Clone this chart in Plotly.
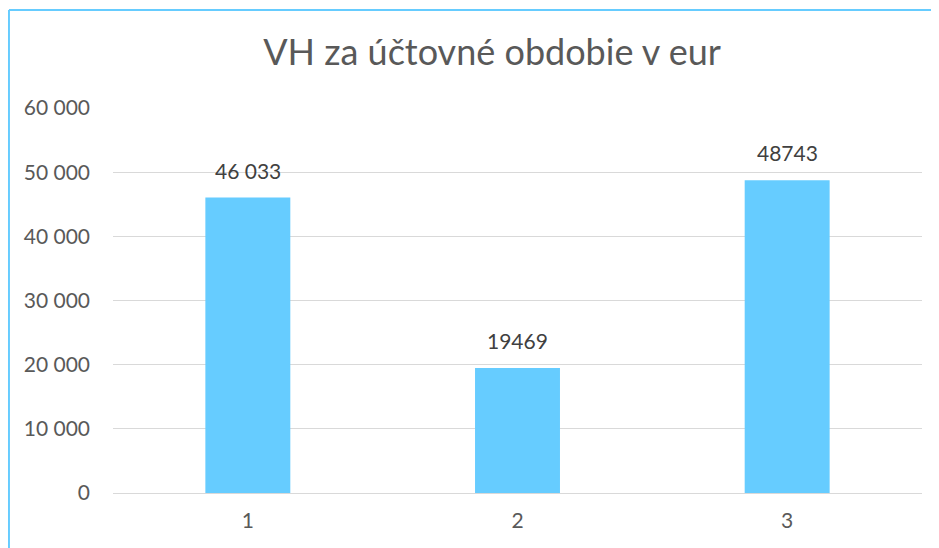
import plotly.graph_objects as go

categories = ["1", "2", "3"]
values = [46033, 19469, 48743]
value_labels = ["46 033", "19469", "48743"]
y_ticks = [0, 10000, 20000, 30000, 40000, 50000, 60000]
title_text = "VH za účtovné obdobie v eur"

fig = go.Figure()
fig.add_trace(go.Bar(
    x=categories, y=values,
    marker=dict(color="#66CCFF", line=dict(width=0)),
    width=0.315,
))

for i, (v, t) in enumerate(zip(values, value_labels)):
    fig.add_annotation(x=i, y=v, text=t, showarrow=False,
                       yanchor="bottom", yshift=13,
                       font=dict(size=21, color="#404040", family="Lato"))

border = dict(color="#66CCFF", width=2)
fig.update_layout(
    width=939, height=548,
    margin=dict(l=105, r=25, t=100, b=63),
    paper_bgcolor="white", plot_bgcolor="white",
    separators=", ",
    font=dict(family="Lato", color="#595959", size=21),
    title=dict(text=title_text, x=0.4685, xref="paper", xanchor="center",
               y=0.9197, yref="container", yanchor="middle",
               font=dict(size=36, color="#595959", family="Lato")),
    showlegend=False,
    xaxis=dict(type="category", showgrid=False, showline=True, linecolor="#D9D9D9", linewidth=1,
               ticks="", tickfont=dict(size=21, color="#595959"), ticklabelstandoff=9),
    yaxis=dict(range=[0, 60000], tickvals=y_ticks, tickformat=",d",
               showgrid=True, gridcolor="#D9D9D9", gridwidth=1,
               zeroline=False, showline=False, ticks="",
               tickfont=dict(size=21, color="#595959"), ticklabelstandoff=22),
    shapes=[
        dict(type="line", xref="paper", yref="paper",
             x0=-0.1286, x1=1.2, y0=1.2545, y1=1.2545, line=border, layer="above"),
        dict(type="line", xref="paper", yref="paper",
             x0=-0.1286, x1=-0.1286, y0=-0.5, y1=1.2545, line=border, layer="above"),
    ],
)

fig.write_html("out.html")
